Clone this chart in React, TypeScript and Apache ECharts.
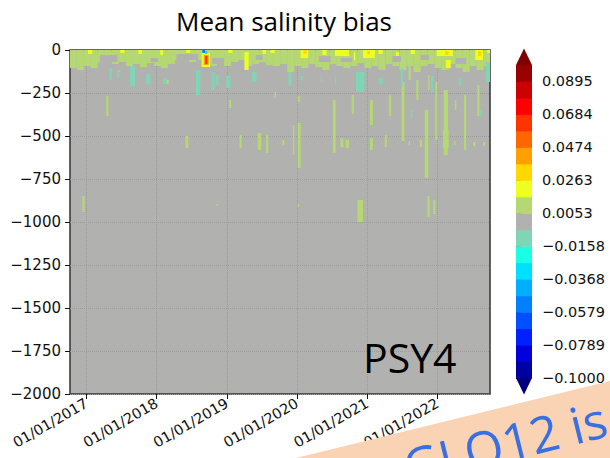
import React, { useEffect, useRef } from "react";
import * as echarts from "echarts";

const TITLE = "Mean salinity bias";
const MODEL_LABEL = "PSY4";
const OVERLAY_TEXT = "GLO12 is";

// x axis in decimal years
const YEAR_TICKS = [2017, 2018, 2019, 2020, 2021, 2022];
const X_MIN = 2016.764;
const X_MAX = 2022.75;
// depth axis (m)
const DEPTH_MIN = -2000;
const DEPTH_MAX = 0;
const DEPTH_STEP = 250;

// colour scale
const BIN_EDGES = [
  -0.1, -0.0895, -0.0789, -0.0684, -0.0579, -0.0474, -0.0368, -0.0263, -0.0158, -0.0053,
  0.0053, 0.0158, 0.0263, 0.0368, 0.0474, 0.0579, 0.0684, 0.0789, 0.0895, 0.1,
];
const BIN_COLORS = [
  "#0000a0", "#0000dd", "#0020ff", "#0050ff", "#0080ff", "#00b0ff", "#00e0ff", "#1affe4", "#7fd6b4",
  "#b1b2af",
  "#b5d873", "#eeff20", "#ffd800", "#ffa000", "#ff6600", "#ff3300", "#ff0000", "#cc0000", "#990000",
];
const UNDER_COLOR = "#000080";
const OVER_COLOR = "#800000";
const COLORBAR_TICKS = [-0.1, -0.0789, -0.0579, -0.0368, -0.0158, 0.0053, 0.0263, 0.0474, 0.0684, 0.0895];

// surface band (0 m down to the listed depth), columns of 0.1 year
const BAND_START = 2016.76;
const BAND_STEP = 0.1;
const BAND_VALUE = 0.011;
const BAND_BOTTOM = [
  -105, -116, -93, -105, -70, -58, -81, -70, -93, -81,
  -99, -76, -93, -105, -81, -58, -47, -70, -58, -81,
  -93, -76, -93, -70, -58, -93, -81, -70, -87, -93,
  -81, -128, -93, -105, -81, -99, -116, -81, -93, -105,
  -93, -76, -105, -93, -116, -81, -93, -116, -93, -128,
  -93, -81, -105, -116, -81, -105, -128, -93, -116, -93,
];

// [yearStart, yearEnd, depthTop, depthBottom, bias]
const GAPS = [
  [2017.19, 2017.44, -29, -70, 0],
  [2017.91, 2018.02, -47, -70, 0],
  [2018.28, 2018.59, -23, -58, 0],
  [2018.79, 2018.96, -47, -81, 0],
  [2019.41, 2019.51, -29, -58, 0],
  [2020.31, 2020.48, -35, -70, 0],
  [2020.62, 2020.79, -47, -70, 0],
  [2021.36, 2021.48, -35, -70, 0],
  [2021.76, 2021.88, -29, -58, 0],
  [2022.26, 2022.41, -47, -81, 0],
];

const SUBSURFACE = [
  // positive (green)
  [2016.94, 2016.97, -849, -942, 0.011],
  [2017.28, 2017.31, -267, -384, 0.011],
  [2017.45, 2017.47, -116, -128, 0.011],
  [2018.14, 2018.17, -174, -198, 0.011],
  [2018.41, 2018.45, -500, -570, 0.011],
  [2018.85, 2018.87, -895, -907, 0.011],
  [2019.03, 2019.06, -291, -337, 0.011],
  [2019.18, 2019.21, -494, -570, 0.011],
  [2019.44, 2019.49, -483, -581, 0.011],
  [2019.56, 2019.59, -494, -599, 0.011],
  [2019.68, 2019.7, -244, -279, 0.011],
  [2019.79, 2019.82, -523, -552, 0.011],
  [2019.94, 2019.96, -436, -610, 0.011],
  [2020.01, 2020.04, -267, -302, 0.011],
  [2020.01, 2020.05, -424, -686, 0.011],
  [2020.01, 2020.03, -895, -913, 0.011],
  [2020.51, 2020.55, -291, -599, 0.011],
  [2020.62, 2020.66, -512, -564, 0.011],
  [2020.69, 2020.74, -523, -570, 0.011],
  [2020.78, 2020.81, -262, -372, 0.011],
  [2020.86, 2020.94, -872, -1000, 0.011],
  [2021.04, 2021.08, -291, -436, 0.011],
  [2021.04, 2021.08, -512, -581, 0.011],
  [2021.25, 2021.28, -494, -564, 0.011],
  [2021.31, 2021.34, -262, -384, 0.011],
  [2021.49, 2021.53, -186, -529, 0.011],
  [2021.59, 2021.62, -93, -174, 0.011],
  [2021.59, 2021.61, -529, -552, 0.011],
  [2021.7, 2021.73, -174, -291, 0.011],
  [2021.75, 2021.78, -523, -564, 0.011],
  [2021.82, 2021.87, -349, -744, 0.011],
  [2021.87, 2021.89, -145, -233, 0.011],
  [2021.86, 2021.89, -849, -971, 0.011],
  [2021.94, 2021.97, -872, -953, 0.011],
  [2021.97, 2022.0, -186, -523, 0.011],
  [2022.09, 2022.15, -233, -610, 0.011],
  [2022.08, 2022.16, -465, -570, 0.011],
  [2022.24, 2022.26, -529, -552, 0.011],
  [2022.25, 2022.27, -291, -349, 0.011],
  [2022.38, 2022.41, -262, -581, 0.011],
  [2022.51, 2022.54, -535, -558, 0.011],
  [2022.57, 2022.6, -204, -384, 0.011],
  [2022.65, 2022.68, -535, -558, 0.011],
  // negative (mint)
  [2017.33, 2017.36, -105, -174, -0.011],
  [2017.44, 2017.46, -128, -163, -0.011],
  [2017.62, 2017.69, -93, -209, -0.011],
  [2017.85, 2017.91, -140, -198, -0.011],
  [2018.09, 2018.14, -163, -198, -0.011],
  [2018.56, 2018.62, -116, -262, -0.011],
  [2018.78, 2018.82, -128, -233, -0.011],
  [2018.84, 2018.88, -145, -203, -0.011],
  [2018.99, 2019.05, -151, -221, -0.011],
  [2019.36, 2019.42, -128, -186, -0.011],
  [2019.88, 2019.92, -128, -209, -0.011],
  [2020.05, 2020.08, -151, -174, -0.011],
  [2020.34, 2020.36, -157, -186, -0.011],
  [2020.54, 2020.56, -157, -198, -0.011],
  [2020.84, 2020.96, -128, -244, -0.011],
  [2021.16, 2021.22, -163, -198, -0.011],
  [2021.48, 2021.51, -105, -209, -0.011],
  [2021.62, 2021.64, -349, -395, -0.011],
  [2021.91, 2021.94, -151, -244, -0.011],
  [2022.31, 2022.34, -163, -209, -0.011],
  [2022.61, 2022.63, -349, -390, -0.011],
  [2022.69, 2022.76, -70, -186, -0.011],
];

const SURFACE_SPOTS = [
  [2017.02, 2017.08, 0, -23, 0.021],
  [2017.48, 2017.54, 0, -17, 0.021],
  [2017.74, 2017.79, 0, -23, 0.021],
  [2018.05, 2018.09, 0, -29, 0.021],
  [2018.42, 2018.48, 0, -17, 0.021],
  [2019.02, 2019.08, 0, -17, 0.021],
  [2019.25, 2019.31, -12, -116, 0.021],
  [2019.51, 2019.56, 0, -23, 0.021],
  [2019.62, 2019.68, 0, -17, 0.021],
  [2020.05, 2020.16, 0, -47, 0.021],
  [2020.36, 2020.42, 0, -29, 0.021],
  [2020.54, 2020.74, 0, -35, 0.021],
  [2020.81, 2020.83, -12, -58, 0.021],
  [2020.94, 2021.11, 0, -47, 0.021],
  [2021.16, 2021.22, 0, -23, 0.021],
  [2021.41, 2021.45, -12, -35, 0.021],
  [2021.62, 2021.68, 0, -23, 0.021],
  [2021.99, 2022.22, 0, -35, 0.021],
  [2022.12, 2022.19, -58, -105, 0.021],
  [2022.54, 2022.65, 0, -58, 0.021],
  [2022.71, 2022.75, 0, -17, 0.021],
  [2020.09, 2020.14, 0, -23, 0.031],
  [2021.0, 2021.04, -6, -23, 0.031],
  [2022.11, 2022.16, -6, -29, 0.031],
  [2022.58, 2022.62, -6, -35, 0.031],
  // strong anomaly in late 2018
  [2018.64, 2018.76, -17, -99, 0.021],
  [2018.67, 2018.74, -29, -87, 0.045],
  [2018.69, 2018.72, -35, -81, 0.065],
  [2018.65, 2018.69, 0, -17, -0.055],
  [2018.69, 2018.72, -6, -23, -0.03],
];

function colorOf(v: number): string {
  if (v < BIN_EDGES[0]) return UNDER_COLOR;
  for (let i = 0; i < BIN_COLORS.length; i++) {
    if (v < BIN_EDGES[i + 1]) return BIN_COLORS[i];
  }
  return OVER_COLOR;
}

const fmtMinus = (s: string) => s.replace("-", "\u2212");

export default function App() {
  const ref = useRef<HTMLDivElement>(null);
  useEffect(() => {
    document.body.style.margin = "0";
    if (!ref.current) return;
    const chart = echarts.init(ref.current, null, { renderer: "svg" });

    const bandData = BAND_BOTTOM.map((d, i) => [
      BAND_START + i * BAND_STEP,
      BAND_START + (i + 1) * BAND_STEP,
      0,
      d,
      BAND_VALUE,
    ]);
    const fieldData = [...bandData, ...GAPS, ...SUBSURFACE, ...SURFACE_SPOTS];
    const binData = BIN_COLORS.map((c, i) => [BIN_EDGES[i], BIN_EDGES[i + 1], i]);
    const binW = BIN_EDGES[1] - BIN_EDGES[0];
    const triData = [
      [BIN_EDGES[BIN_EDGES.length - 1], 1],
      [BIN_EDGES[0], -1],
    ];

    const font = "DejaVu Sans";
    const option: any = {
      animation: false,
      title: {
        text: TITLE,
        left: 279,
        top: 3,
        textAlign: "center",
        textStyle: { fontSize: 26, fontWeight: "normal", color: "#000", fontFamily: "Open Sans" },
      },
      grid: [
        {
          left: 70,
          top: 50,
          width: 420,
          height: 344,
          show: true,
          backgroundColor: BIN_COLORS[9],
          borderColor: "#333",
          borderWidth: 1.5,
          z: 0,
        },
        { left: 516, top: 65, width: 16, height: 313, show: false },
      ],
      xAxis: [
        {
          type: "value",
          gridIndex: 0,
          min: X_MIN,
          max: X_MAX,
          axisLine: { show: false, onZero: false },
          axisTick: { show: true, length: 5, customValues: YEAR_TICKS, lineStyle: { color: "#111" } },
          axisLabel: {
            customValues: YEAR_TICKS,
            rotate: 30,
            margin: 8,
            fontSize: 14.5,
            color: "#111",
            fontFamily: font,
            formatter: (v: number) => "01/01/" + v,
          },
          splitLine: { show: true, lineStyle: { color: "#9c9c9c", type: "dotted", width: 1 } },
        },
        { type: "value", gridIndex: 1, min: 0, max: 1, show: false },
      ],
      yAxis: [
        {
          type: "value",
          gridIndex: 0,
          min: DEPTH_MIN,
          max: DEPTH_MAX,
          interval: DEPTH_STEP,
          axisLine: { show: false, onZero: false },
          axisTick: { show: true, length: 5, lineStyle: { color: "#111" } },
          axisLabel: {
            margin: 9,
            fontSize: 15,
            color: "#111",
            fontFamily: font,
            formatter: (v: number) => fmtMinus(String(v)),
          },
          splitLine: { show: true, lineStyle: { color: "#9c9c9c", type: "dotted", width: 1 } },
        },
        {
          type: "value",
          gridIndex: 1,
          min: BIN_EDGES[0],
          max: BIN_EDGES[BIN_EDGES.length - 1],
          position: "right",
          axisLine: { show: false },
          axisTick: { show: true, inside: false, length: 5, customValues: COLORBAR_TICKS, lineStyle: { color: "#111" } },
          axisLabel: {
            customValues: COLORBAR_TICKS,
            margin: 10,
            fontSize: 14.5,
            color: "#111",
            fontFamily: font,
            formatter: (v: number) => fmtMinus(v.toFixed(4)),
          },
          splitLine: { show: false },
        },
      ],
      series: [
        {
          type: "custom",
          xAxisIndex: 0,
          yAxisIndex: 0,
          clip: true,
          data: fieldData,
          renderItem: (params: any, api: any) => {
            const p0 = api.coord([api.value(0), api.value(2)]);
            const p1 = api.coord([api.value(1), api.value(3)]);
            return {
              type: "rect",
              shape: { x: p0[0], y: p0[1], width: p1[0] - p0[0], height: p1[1] - p0[1] },
              style: { fill: colorOf(api.value(4)) },
            };
          },
        },
        {
          type: "custom",
          xAxisIndex: 1,
          yAxisIndex: 1,
          data: binData,
          renderItem: (params: any, api: any) => {
            const p0 = api.coord([0, api.value(1)]);
            const p1 = api.coord([1, api.value(0)]);
            return {
              type: "rect",
              shape: { x: p0[0], y: p0[1], width: p1[0] - p0[0], height: p1[1] - p0[1] + 0.5 },
              style: { fill: BIN_COLORS[api.value(2)] },
            };
          },
        },
        {
          type: "custom",
          xAxisIndex: 1,
          yAxisIndex: 1,
          data: triData,
          renderItem: (params: any, api: any) => {
            const edge = api.value(0);
            const dir = api.value(1);
            const a = api.coord([0, edge]);
            const b = api.coord([1, edge]);
            const tip = api.coord([0.5, edge + dir * binW]);
            return {
              type: "polygon",
              shape: { points: [a, b, tip] },
              style: { fill: dir > 0 ? OVER_COLOR : UNDER_COLOR },
            };
          },
        },
      ],
      graphic: [
        {
          type: "text",
          x: 363,
          y: 357,
          style: {
            text: MODEL_LABEL,
            fontSize: 41,
            fontFamily: "Open Sans",
            fill: "#000",
            verticalAlign: "middle",
          },
          z: 50,
        },
        {
          type: "polygon",
          shape: { points: [[296, 458], [610, 381], [610, 458]] },
          style: { fill: "#f9d3b3" },
          z: 100,
        },
        {
          type: "text",
          x: 410,
          y: 492,
          rotation: 0.243,
          style: {
            text: OVERLAY_TEXT,
            fontSize: 50,
            fontFamily: "Open Sans",
            fill: "#3a6fe3",
            verticalAlign: "bottom",
          },
          z: 101,
        },
      ],
    };
    chart.setOption(option);
    return () => chart.dispose();
  }, []);
  return <div ref={ref} style={{ width: 610, height: 458 }} />;
}
